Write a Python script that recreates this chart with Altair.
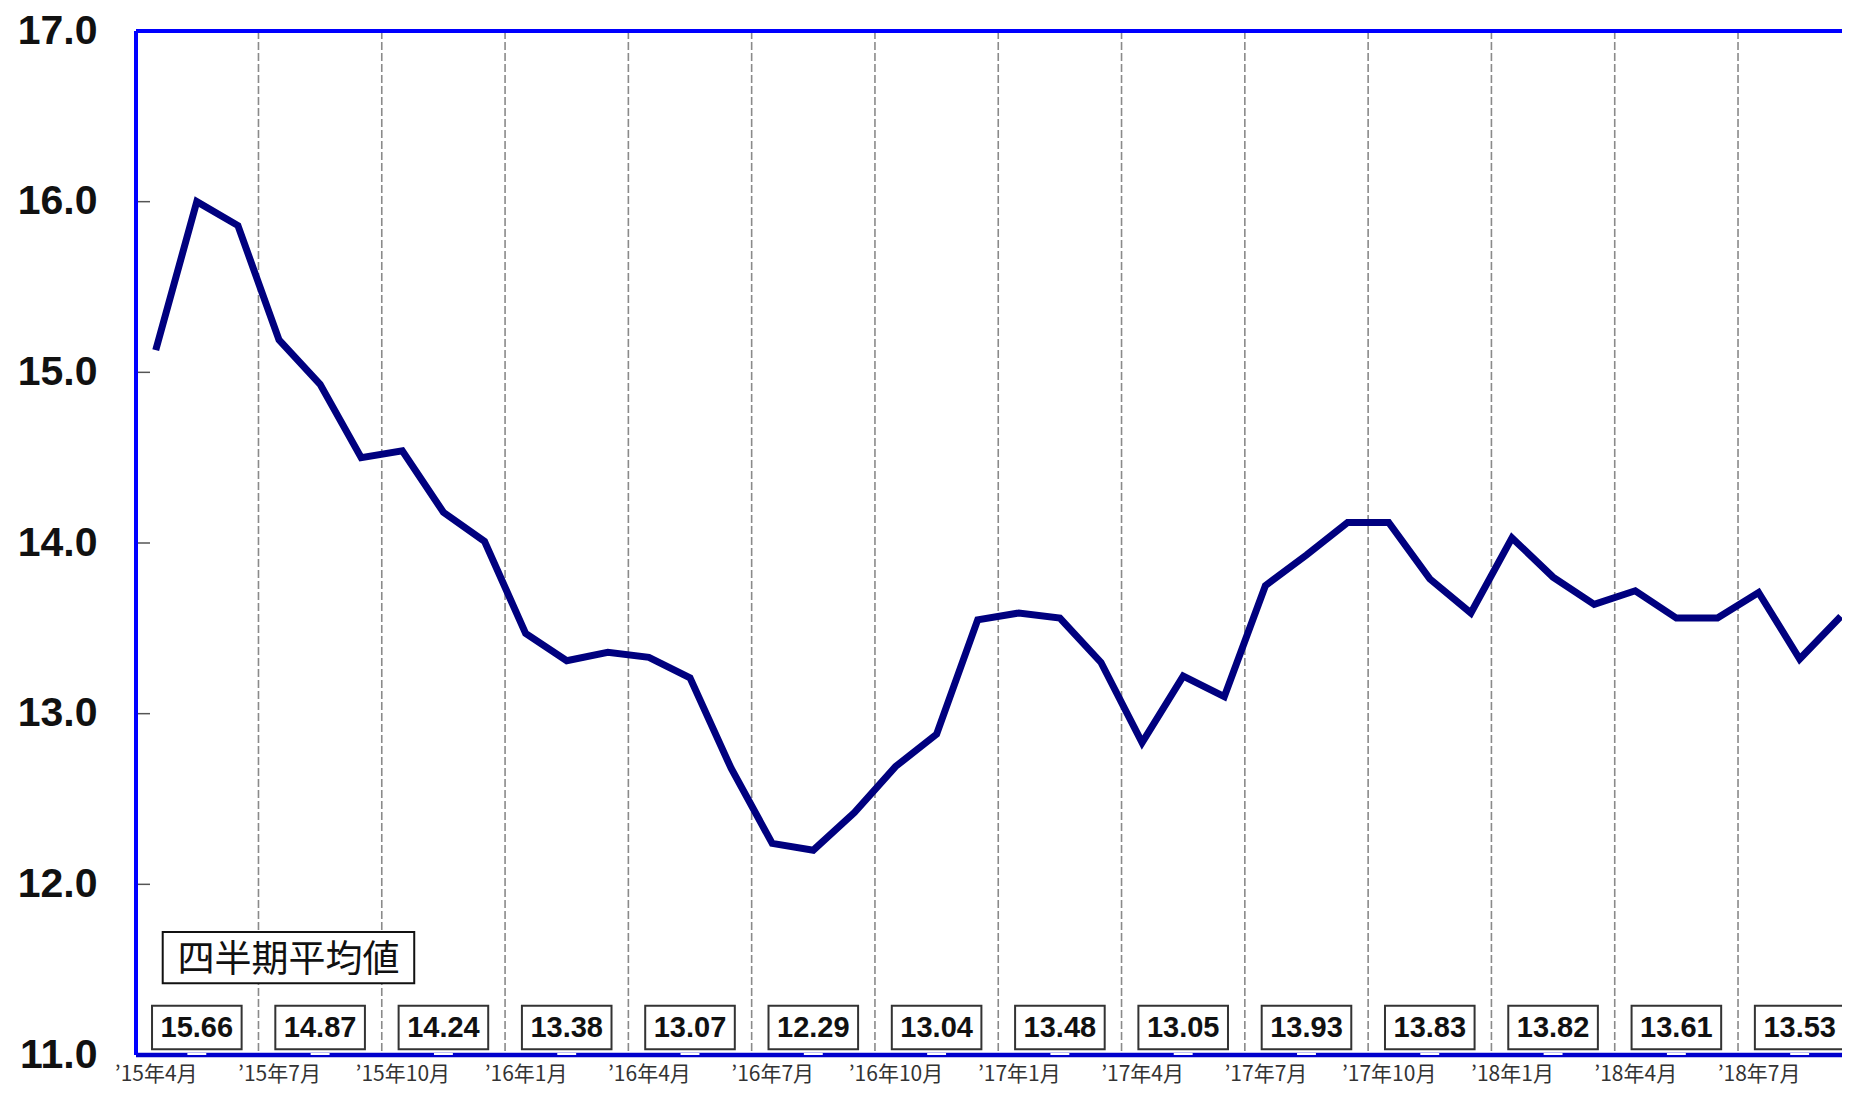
import altair as alt
import pandas as pd

# ---- data ----
month_values = [
    15.13, 16.00, 15.86,   # '15 Apr-Jun
    15.19, 14.93, 14.50,   # '15 Jul-Sep
    14.54, 14.18, 14.01,   # '15 Oct-Dec
    13.47, 13.31, 13.36,   # '16 Jan-Mar
    13.33, 13.21, 12.68,   # '16 Apr-Jun
    12.24, 12.20, 12.42,   # '16 Jul-Sep
    12.69, 12.88, 13.55,   # '16 Oct-Dec
    13.59, 13.56, 13.30,   # '17 Jan-Mar
    12.83, 13.22, 13.10,   # '17 Apr-Jun
    13.75, 13.93, 14.12,   # '17 Jul-Sep
    14.12, 13.79, 13.59,   # '17 Oct-Dec
    14.03, 13.80, 13.64,   # '18 Jan-Mar
    13.72, 13.56, 13.56,   # '18 Apr-Jun
    13.71, 13.32, 13.57,   # '18 Jul-Sep
]
quarter_averages = ["15.66", "14.87", "14.24", "13.38", "13.07", "12.29", "13.04",
                    "13.48", "13.05", "13.93", "13.83", "13.82", "13.61", "13.53"]
x_tick_labels = ["’15年4月", "’15年7月", "’15年10月", "’16年1月", "’16年4月", "’16年7月",
                 "’16年10月", "’17年1月", "’17年4月", "’17年7月", "’17年10月", "’18年1月",
                 "’18年4月", "’18年7月"]
y_ticks = [11, 12, 13, 14, 15, 16, 17]
legend_text = "四半期平均値"

# ---- tables built from the arrays ----
line_df = pd.DataFrame({"i": list(range(len(month_values))), "v": month_values})
q_df = pd.DataFrame({"label": quarter_averages})
q_df["c"] = [3 * k + 1 for k in range(len(quarter_averages))]
q_df["x0"] = q_df["c"] - 1.09
q_df["x1"] = q_df["c"] + 1.09
q_df["g0"] = q_df["c"] - 0.23
q_df["g1"] = q_df["c"] + 0.23
grid_df = pd.DataFrame({"g": [3 * k + 2.5 for k in range(len(quarter_averages) - 1)]})
tick_df = pd.DataFrame({"t": y_ticks[1:-1]})
tick_pos = [3 * k for k in range(len(x_tick_labels))]
label_expr = "[" + ",".join("'" + s + "'" for s in x_tick_labels) + "][round(datum.value/3)]"

xs = alt.Scale(domain=[-0.48, 41.03], nice=False, zero=False)
ys = alt.Scale(domain=[11, 17], nice=False, zero=False)

W, H = 1706, 1024

grid = alt.Chart(grid_df).mark_rule(color="#8a8a8a", strokeWidth=1.6, strokeDash=[8, 3]).encode(
    x=alt.X("g:Q", scale=xs, title=None)
)

yticks = alt.Chart(tick_df).mark_rule(color="#555555", strokeWidth=1.5).encode(
    y=alt.Y("t:Q", scale=ys, title=None),
    x=alt.value(0),
    x2=alt.value(14),
)

line = alt.Chart(line_df).mark_line(color="#00007F", strokeWidth=7, strokeJoin="miter").encode(
    x=alt.X("i:Q", scale=xs, title=None,
            axis=alt.Axis(values=tick_pos, labelExpr=label_expr)),
    y=alt.Y("v:Q", scale=ys, title=None,
            axis=alt.Axis(values=y_ticks, format=".1f")),
)

boxes = alt.Chart(q_df).mark_rect(fill="white", stroke="#333333", strokeWidth=2).encode(
    x=alt.X("x0:Q", scale=xs, title=None),
    x2="x1:Q",
    y=alt.datum(11.033),
    y2=alt.datum(11.289),
)

box_text = alt.Chart(q_df).mark_text(
    font="Liberation Sans", fontWeight="bold", fontSize=29, color="#111111", baseline="middle"
).encode(
    x=alt.X("c:Q", scale=xs, title=None),
    y=alt.datum(11.158),
    text="label:N",
)

top_border = alt.Chart(pd.DataFrame({"b": [17]})).mark_rule(color="#0000FF", strokeWidth=4).encode(
    y=alt.Y("b:Q", scale=ys, title=None)
)
bottom_border = alt.Chart(pd.DataFrame({"b": [11]})).mark_rule(color="#0000CC", strokeWidth=4.5).encode(
    y=alt.Y("b:Q", scale=ys, title=None)
)
left_border = alt.Chart(pd.DataFrame({"b": [0]})).mark_rule(color="#0000FF", strokeWidth=4).encode(
    x=alt.value(0)
)

gaps = alt.Chart(q_df).mark_rule(color="white", strokeWidth=2, yOffset=-1).encode(
    x=alt.X("g0:Q", scale=xs, title=None),
    x2="g1:Q",
    y=alt.datum(11),
)

legend_box = alt.Chart(pd.DataFrame({"t": [legend_text]})).mark_rect(
    fill="white", stroke="#111111", strokeWidth=2
).encode(
    x=alt.datum(0.17), x2=alt.datum(6.29),
    y=alt.datum(11.42), y2=alt.datum(11.72),
)
legend_label = alt.Chart(pd.DataFrame({"t": [legend_text]})).mark_text(
    font="Noto Sans CJK JP", fontSize=37, color="#111111", baseline="middle"
).encode(
    x=alt.datum(3.23), y=alt.datum(11.548), text="t:N",
)

chart = alt.layer(
    grid, yticks, legend_box, legend_label, boxes, box_text, line,
    top_border, bottom_border, left_border, gaps,
).properties(
    width=W, height=H,
    autosize=alt.AutoSizeParams(type="none"),
    padding={"left": 128, "top": 23, "right": 0, "bottom": 31},
    background="white",
).configure_view(
    stroke=None
).configure_axisX(
    domain=False, grid=False, ticks=False, tickSize=0,
    labelFont="Noto Sans CJK JP", labelFontSize=21, labelColor="#333333",
    labelPadding=8, labelFlush=False, labelOverlap=False,
).configure_axisY(
    domain=False, grid=False, ticks=False, tickSize=0,
    labelFont="Liberation Sans", labelFontWeight="bold", labelFontSize=41,
    labelColor="#111111", labelPadding=39, labelOverlap=False,
)

chart.save("out.html", embed_options={"renderer": "svg", "actions": False})
